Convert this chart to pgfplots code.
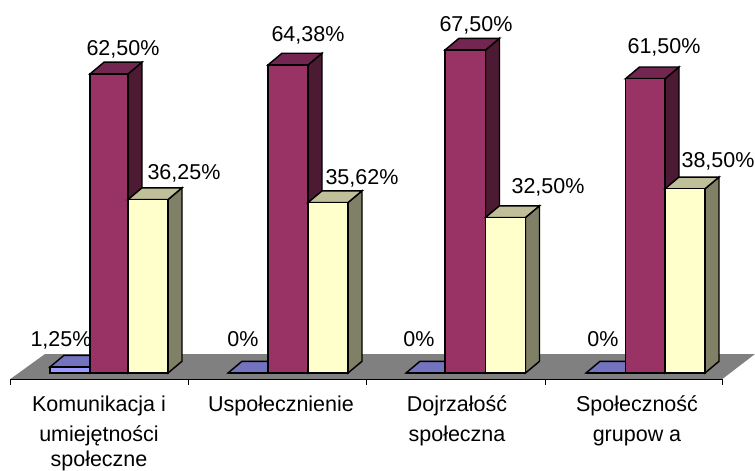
\documentclass[border=0pt]{standalone}
\usepackage{fontspec}
\setmainfont{Liberation Sans}
\usepackage{pgfplots}
\pgfplotsset{compat=1.18}

\definecolor{blueF}{HTML}{9999FF}
\definecolor{blueT}{HTML}{7373BF}
\definecolor{blueS}{HTML}{4D4D80}
\definecolor{wineF}{HTML}{993366}
\definecolor{wineT}{HTML}{732650}
\definecolor{wineS}{HTML}{4D1A33}
\definecolor{creamF}{HTML}{FFFFCC}
\definecolor{creamT}{HTML}{BFBF99}
\definecolor{creamS}{HTML}{808066}
\definecolor{floorgray}{HTML}{808080}

% x runs in picture pixels, y in percent; 4.785 px per percent
% depth of a bar: 14 px right, 11.7 px up
\newcommand{\threedbar}[4]{% x0, x1, value, colour prefix
  \pgfmathsetmacro\xa{#1+14}
  \pgfmathsetmacro\xb{#2+14}
  \pgfmathsetmacro\yb{#3+2.445}
  \addplot[draw=black,fill=#4S,line width=1.45pt] coordinates {(#2,0) (\xb,2.445) (\xb,\yb) (#2,#3)} -- cycle;
  \addplot[draw=black,fill=#4T,line width=1.45pt] coordinates {(#1,#3) (\xa,\yb) (\xb,\yb) (#2,#3)} -- cycle;
  \addplot[draw=black,fill=#4F,line width=1.45pt] coordinates {(#1,0) (#1,#3) (#2,#3) (#2,0)} -- cycle;
}
\newcommand{\lab}[3]{\node[anchor=base,inner sep=0pt] at (axis cs:#1,{(373-#2)/4.785}) {#3};}

\begin{document}
\begin{tikzpicture}
\useasboundingbox (0,0) rectangle (755pt,471pt);
\begin{axis}[
  scale only axis,
  width=755pt,height=471pt,
  xmin=0,xmax=755,
  ymin=-20.48,ymax=77.95,
  hide axis,
  clip=false,
  every axis plot/.append style={line join=miter,forget plot},
  font=\fontsize{21.5}{24}\selectfont,
]
  % floor and ticks
  \addplot[fill=floorgray,draw=none] coordinates {(10,-1.317) (45,3.97) (755,3.97) (722,-1.317)} -- cycle;
  \addplot[black,line width=0.8pt] coordinates {(10,-1.317) (722,-1.317)};
  \addplot[black,line width=0.8pt] coordinates {(10,-1.317) (10,-2.5)};
  \addplot[black,line width=0.8pt] coordinates {(188,-1.317) (188,-2.5)};
  \addplot[black,line width=0.8pt] coordinates {(366,-1.317) (366,-2.5)};
  \addplot[black,line width=0.8pt] coordinates {(545,-1.317) (545,-2.5)};
  \addplot[black,line width=0.8pt] coordinates {(722,-1.317) (722,-2.5)};

  % Komunikacja i umiejetnosci spoleczne
  \threedbar{50}{90}{1.25}{blue}
  \threedbar{90}{128}{62.5}{wine}
  \threedbar{128}{168}{36.25}{cream}
  % Uspolecznienie
  \threedbar{228}{268}{0}{blue}
  \threedbar{268}{308}{64.38}{wine}
  \threedbar{308}{348}{35.62}{cream}
  % Dojrzalosc spoleczna
  \threedbar{406}{445}{0}{blue}
  \threedbar{445}{485.5}{67.5}{wine}
  \threedbar{485.5}{525.5}{32.5}{cream}
  % Spolecznosc grupowa
  \threedbar{586}{625.5}{0}{blue}
  \threedbar{625.5}{665}{61.5}{wine}
  \threedbar{665}{705}{38.5}{cream}

  % value labels
  \lab{61}{347}{1,25\%}
  \lab{123}{56}{62,50\%}
  \lab{184}{180}{36,25\%}
  \lab{243}{347}{0\%}
  \lab{308}{42}{64,38\%}
  \lab{362}{185}{35,62\%}
  \lab{419}{347}{0\%}
  \lab{476}{32}{67,50\%}
  \lab{548}{194}{32,50\%}
  \lab{603}{347}{0\%}
  \lab{664}{54}{61,50\%}
  \lab{718}{168}{38,50\%}

  % category labels
  \lab{99}{412}{Komunikacja i}
  \lab{99}{441}{umiejętności}
  \lab{99}{466}{społeczne}
  \lab{281}{412}{Uspołecznienie}
  \lab{457}{412}{Dojrzałość}
  \lab{457}{441}{społeczna}
  \lab{637}{412}{Społeczność}
  \lab{637}{441}{grupow a}
\end{axis}
\end{tikzpicture}
\end{document}
